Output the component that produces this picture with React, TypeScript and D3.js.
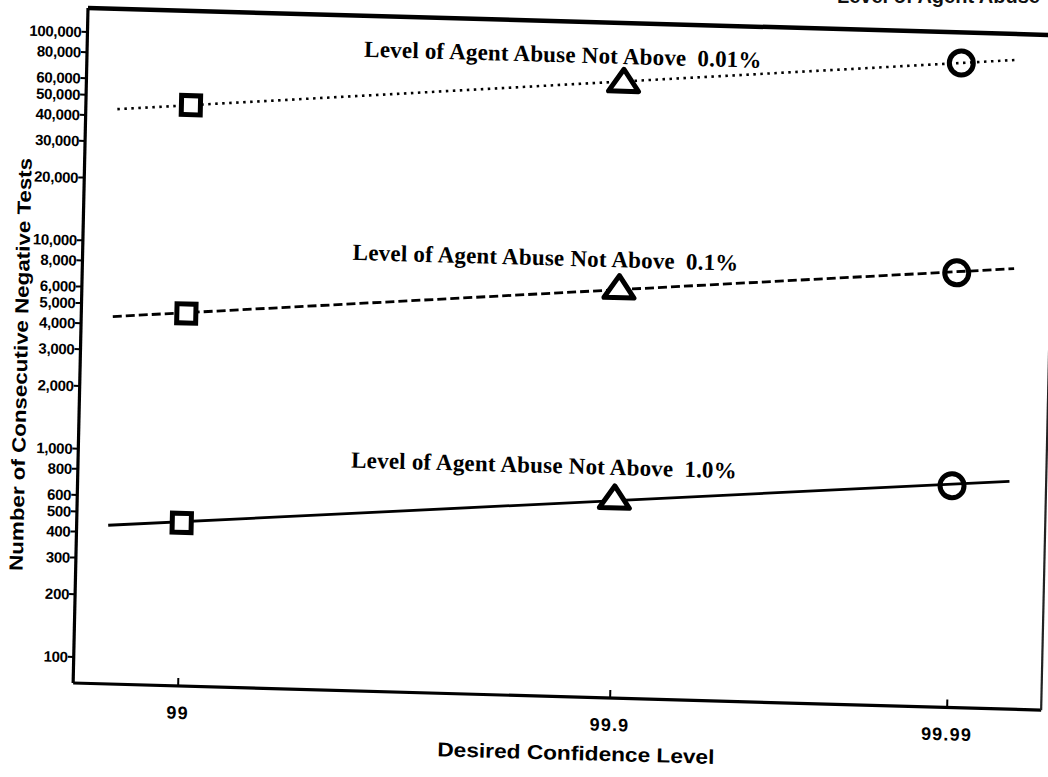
import React from 'react';
import * as d3 from 'd3';

// ---- data ----
const categories = ['99', '99.9', '99.99'];
const abuse001 = [46000, 68500, 93000];
const abuse01 = [4600, 7000, 9150];
const abuse10 = [455, 685, 870];
const seriesNames = ['0.01%', '0.1%', '1.0%'];
const yTicks = [
  100, 200, 300, 400, 500, 600, 800,
  1000, 2000, 3000, 4000, 5000, 6000, 8000,
  10000, 20000, 30000, 40000, 50000, 60000, 80000, 100000,
];
const yTickLabels = yTicks.map((d) => d3.format(',')(d));
const xTitle = 'Desired Confidence Level';
const yTitle = 'Number of Consecutive Negative Tests';
const labelPrefix = 'Level of Agent Abuse Not Above';
const topTitle = 'Level of Agent Abuse';

const W = 968;
const H = 675;
const SANS = '"Liberation Sans", Arial, Helvetica, sans-serif';
const SERIF = '"Liberation Serif", "Times New Roman", Times, serif';

export default function App() {
  const x = d3.scaleLinear().domain([0, 1, 2]).range([105, 537, 874]);
  const y = d3.scaleLog().domain([100, 100000]).range([649, 24]);
  const lineExtent = [-0.17, 2.17];

  const series = [
    { name: seriesNames[0], values: abuse001, dash: '2.5,4.5', width: 2.6, lu: 277, off: 39 },
    { name: seriesNames[1], values: abuse01, dash: '9,4', width: 2.8, lu: 270, off: 44 },
    { name: seriesNames[2], values: abuse10, dash: null as string | null, width: 2.8, lu: 273, off: 46 },
  ];

  const fit = (vals: number[]) => {
    const pts = vals.map((v, i) => [x(i), Math.log10(v)]);
    const mu = d3.mean(pts, (p) => p[0])!;
    const ml = d3.mean(pts, (p) => p[1])!;
    const sxy = d3.sum(pts, (p) => (p[0] - mu) * (p[1] - ml));
    const sxx = d3.sum(pts, (p) => (p[0] - mu) ** 2);
    const b = sxy / sxx;
    return (u: number) => Math.pow(10, ml + b * (u - mu));
  };

  const triPath = 'M0,-12 L15,10 L-15,10 Z';

  return (
    <svg
      width={1048}
      height={777}
      style={{ position: 'absolute', left: 0, top: 0, background: '#fff' }}
    >
      <rect x={0} y={0} width={1048} height={777} fill="#fff" />
      <text
        x={1040}
        y={3}
        textAnchor="end"
        fontFamily={SANS}
        fontWeight="bold"
        fontSize={20}
        fill="#111"
      >
        {topTitle}
      </text>
      <g transform="matrix(1,0.028,-0.022,1,88,8)">
        {/* frame */}
        <line x1={0} y1={0} x2={W} y2={0} stroke="#000" strokeWidth={4.5} />
        <line x1={0} y1={0} x2={0} y2={H} stroke="#000" strokeWidth={3.2} />
        <line x1={0} y1={H} x2={W} y2={H} stroke="#000" strokeWidth={3.2} />
        <line x1={W} y1={0} x2={W} y2={H} stroke="#222" strokeWidth={2.2} />

        {/* y axis ticks */}
        {yTicks.map((t, i) => (
          <g key={t} transform={`translate(0,${y(t)})`}>
            <line x1={-6} x2={0} stroke="#000" strokeWidth={2} />
            <text
              x={-6}
              dy="0.36em"
              textAnchor="end"
              fontFamily={SANS}
              fontWeight="bold"
              fontSize={15}
              letterSpacing={-0.3}
              fill="#000"
            >
              {yTickLabels[i]}
            </text>
          </g>
        ))}

        {/* x axis ticks */}
        {categories.map((c, i) => (
          <g key={c} transform={`translate(${x(i)},0)`}>
            <line y1={H} y2={H - 8} stroke="#000" strokeWidth={2} />
            <text
              y={H + 33}
              textAnchor="middle"
              fontFamily={SANS}
              fontWeight="bold"
              fontSize={18}
              letterSpacing={1.2}
              fill="#000"
            >
              {c}
            </text>
          </g>
        ))}

        {/* axis titles */}
        <text
          x={504}
          y={738}
          textAnchor="middle"
          fontFamily={SANS}
          fontWeight="bold"
          fontSize={20}
          textLength={277}
          lengthAdjust="spacingAndGlyphs"
          fill="#000"
        >
          {xTitle}
        </text>
        <text
          transform="translate(-53,358) rotate(-90)"
          textAnchor="middle"
          fontFamily={SANS}
          fontWeight="bold"
          fontSize={19}
          textLength={413}
          lengthAdjust="spacingAndGlyphs"
          fill="#000"
        >
          {yTitle}
        </text>

        {/* series */}
        {series.map((s) => {
          const f = fit(s.values);
          const u0 = x(lineExtent[0]);
          const u1 = x(lineExtent[1]);
          const path = d3
            .line<number>()
            .x((u) => u)
            .y((u) => y(f(u)))([u0, u1]);
          const lv = y(f(s.lu)) - s.off;
          return (
            <g key={s.name}>
              <path
                d={path || ''}
                fill="none"
                stroke="#000"
                strokeWidth={s.width}
                strokeDasharray={s.dash || undefined}
              />
              <text
                x={s.lu}
                y={lv}
                fontFamily={SERIF}
                fontWeight="bold"
                fontSize={23}
                letterSpacing={0.2}
                fill="#000"
              >
                {labelPrefix}
                <tspan dx={11}>{s.name}</tspan>
              </text>
              {/* markers: square, triangle, circle */}
              <rect
                x={x(0) - 9.5}
                y={y(s.values[0]) - 9.5}
                width={19}
                height={19}
                fill="#fff"
                stroke="#000"
                strokeWidth={5}
              />
              <path
                d={triPath}
                transform={`translate(${x(1)},${y(s.values[1])})`}
                fill="#fff"
                stroke="#000"
                strokeWidth={5}
                strokeLinejoin="round"
              />
              <circle
                cx={x(2)}
                cy={y(s.values[2])}
                r={12}
                fill="none"
                stroke="#000"
                strokeWidth={5}
              />
            </g>
          );
        })}
      </g>
    </svg>
  );
}
